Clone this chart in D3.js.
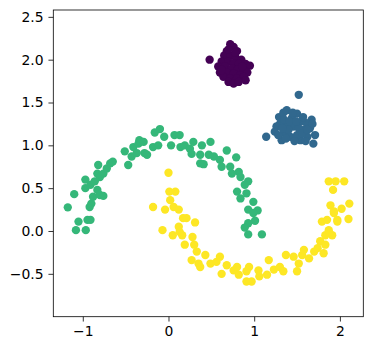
<!DOCTYPE html>
<html>
<head>
<meta charset="utf-8">
<style>
    body { margin: 0; background: #fff; }
    .axis text { font-family: "DejaVu Sans", sans-serif; font-size: 13.9px; fill: #000; }
    .axis path, .axis line { stroke: #000; stroke-width: 0.8px; }
</style>
<script src="https://cdn.jsdelivr.net/npm/d3@7"></script>
</head>
<body>
<script>
    // upper moon (green)
    var moonA = [
        [-1.175, 0.276], [-1.10, 0.43], [-1.05, 0.11], [-1.08, 0.01], [-0.965, 0.01], [-0.945, 0.13],
        [-0.91, 0.13], [-0.92, 0.28], [-0.90, 0.32], [-0.97, 0.50], [-0.97, 0.60], [-0.91, 0.54],
        [-0.88, 0.40], [-0.83, 0.48], [-0.80, 0.42], [-0.76, 0.41], [-0.82, 0.77], [-0.83, 0.67],
        [-0.80, 0.63], [-0.76, 0.67], [-0.72, 0.73], [-0.68, 0.79], [-0.65, 0.81], [-0.86, 0.58],
        [-0.51, 0.93], [-0.47, 0.77], [-0.43, 0.87], [-0.41, 0.98], [-0.35, 1.02], [-0.34, 1.06],
        [-0.29, 1.04], [-0.28, 0.91], [-0.25, 0.89], [-0.37, 0.91], [-0.18, 0.98], [-0.16, 1.15],
        [-0.10, 1.19], [-0.12, 1.00], [-0.05, 1.10], [0.03, 1.00], [0.07, 1.12], [0.13, 1.12],
        [0.14, 0.98], [0.19, 1.00], [0.25, 0.96], [0.29, 1.04], [0.27, 0.90], [0.39, 1.00],
        [0.37, 0.89], [0.49, 1.04], [0.47, 0.89], [0.53, 0.87], [0.37, 0.79], [0.41, 0.78],
        [0.60, 0.83], [0.62, 0.75], [0.68, 0.94], [0.72, 0.75], [0.79, 0.86], [0.74, 0.67],
        [0.82, 0.69], [0.84, 0.63], [0.93, 0.58], [0.89, 0.54], [0.80, 0.46], [0.84, 0.38],
        [0.91, 0.44], [0.99, 0.34], [0.93, 0.25], [1.04, 0.24], [1.01, 0.12], [0.93, 0.09],
        [0.89, 0.04], [0.93, -0.04], [1.09, -0.04], [0.99, 0.21]
    ];
    // lower moon (yellow)
    var moonB = [
        [0.00, 0.68], [-0.18, 0.28], [-0.07, 0.01], [0.01, 0.46], [0.08, 0.46], [0.02, 0.36],
        [-0.04, 0.25], [0.06, 0.28], [0.12, 0.25], [0.17, 0.15], [0.21, 0.15], [0.31, 0.10],
        [0.12, 0.05], [0.05, -0.05], [0.13, -0.01], [0.16, -0.05], [0.19, -0.16], [0.28, -0.07],
        [0.30, -0.16], [0.33, -0.24], [0.27, -0.34], [0.35, -0.38], [0.43, -0.28], [0.37, -0.42],
        [0.49, -0.38], [0.56, -0.36], [0.60, -0.30], [0.62, -0.50], [0.68, -0.40], [0.76, -0.46],
        [0.80, -0.42], [0.82, -0.51], [0.91, -0.47], [0.94, -0.42], [0.91, -0.59], [0.97, -0.59],
        [1.05, -0.46], [1.06, -0.53], [1.15, -0.51], [1.17, -0.34], [1.23, -0.45], [1.30, -0.42],
        [1.34, -0.47], [1.37, -0.28], [1.46, -0.30], [1.52, -0.38], [1.50, -0.47], [1.56, -0.28],
        [1.58, -0.22], [1.70, -0.24], [1.74, -0.20], [1.77, -0.12], [1.81, -0.26], [1.83, -0.16],
        [1.83, -0.05], [1.87, 0.01], [1.91, -0.05], [1.79, 0.11], [1.85, 0.13], [1.93, 0.21],
        [1.97, 0.13], [1.89, 0.30], [2.02, 0.26], [2.10, 0.14], [2.11, 0.32], [1.93, 0.23],
        [1.87, 0.58], [1.95, 0.58], [2.05, 0.58], [1.92, 0.48], [1.97, 0.11], [1.64, -0.32]
    ];
    // top blob (purple)
    var blobA = [
        [0.48, 2.00], [0.72, 2.18], [0.76, 2.15], [0.68, 2.10], [0.80, 2.10], [0.65, 2.05],
        [0.72, 2.05], [0.78, 2.03], [0.85, 2.00], [0.62, 1.98], [0.70, 1.98], [0.76, 1.96],
        [0.82, 1.95], [0.90, 1.95], [0.95, 1.93], [0.58, 1.92], [0.66, 1.92], [0.74, 1.90],
        [0.80, 1.88], [0.88, 1.88], [0.60, 1.85], [0.68, 1.85], [0.76, 1.84], [0.84, 1.82],
        [0.92, 1.85], [0.64, 1.80], [0.72, 1.78], [0.80, 1.78], [0.88, 1.80], [0.70, 1.74],
        [0.76, 1.72], [0.90, 1.76], [0.78, 2.08], [0.86, 1.92], [0.70, 2.12], [0.62, 1.88],
        [0.82, 1.74]
    ];
    // right blob (blue)
    var blobB = [
        [1.52, 1.59], [1.14, 1.10], [1.29, 1.33], [1.34, 1.38], [1.38, 1.41], [1.26, 1.22],
        [1.24, 1.16], [1.32, 1.06], [1.42, 1.10], [1.54, 1.06], [1.69, 1.02], [1.71, 1.12],
        [1.67, 1.30], [1.61, 1.26], [1.50, 1.37], [1.46, 1.22], [1.58, 1.18], [1.38, 1.24],
        [1.44, 1.32], [1.35, 1.15], [1.50, 1.12], [1.62, 1.10], [1.30, 1.25], [1.55, 1.28],
        [1.65, 1.20], [1.40, 1.18], [1.47, 1.05], [1.60, 1.05], [1.35, 1.30], [1.52, 1.20],
        [1.68, 1.25], [1.28, 1.12], [1.45, 1.38], [1.41, 1.28], [1.56, 1.14], [1.37, 1.08],
        [1.49, 1.28], [1.62, 1.18], [1.33, 1.20], [1.57, 1.33]
    ];
    var xTicks = [-1, 0, 1, 2];
    var yTicks = [-0.5, 0, 0.5, 1, 1.5, 2, 2.5];

    var groups = [
        { pts: moonA, color: "#35b779" },
        { pts: moonB, color: "#fde725" },
        { pts: blobA, color: "#440154" },
        { pts: blobB, color: "#31688e" }
    ];

    var W = 373, H = 351;
    var margin = { left: 53.3, right: 9.7, top: 10, bottom: 34.3 };

    var svg = d3.select("body").append("svg")
        .attr("width", W)
        .attr("height", H);

    var x = d3.scaleLinear()
        .domain([-1.344, 2.273])
        .range([margin.left, W - margin.right]);

    var y = d3.scaleLinear()
        .domain([-1.0005, 2.580])
        .range([H - margin.bottom, margin.top]);

    svg.selectAll("g.grp")
        .data(groups)
        .enter().append("g")
        .attr("fill", function (g) { return g.color; })
        .selectAll("circle")
        .data(function (g) { return g.pts; })
        .enter().append("circle")
        .attr("cx", function (d) { return x(d[0]); })
        .attr("cy", function (d) { return y(d[1]); })
        .attr("r", 4.17);

    // frame
    svg.append("rect")
        .attr("x", margin.left)
        .attr("y", margin.top)
        .attr("width", W - margin.left - margin.right)
        .attr("height", H - margin.top - margin.bottom)
        .attr("fill", "none")
        .attr("stroke", "#000")
        .attr("stroke-width", 0.8);

    svg.append("g")
        .attr("class", "axis")
        .attr("transform", "translate(0," + (H - margin.bottom) + ")")
        .call(d3.axisBottom(x).tickValues(xTicks).tickSize(4.86).tickPadding(4.86)
            .tickFormat(function (d) { return String(d).replace("-", "\u2212"); }))
        .call(function (g) { g.select(".domain").remove(); });

    svg.append("g")
        .attr("class", "axis")
        .attr("transform", "translate(" + margin.left + ",0)")
        .call(d3.axisLeft(y).tickValues(yTicks).tickSize(4.86).tickPadding(4.86)
            .tickFormat(function (d) { return d3.format(".1f")(d).replace("-", "\u2212"); }))
        .call(function (g) { g.select(".domain").remove(); });
</script>
</body>
</html>
